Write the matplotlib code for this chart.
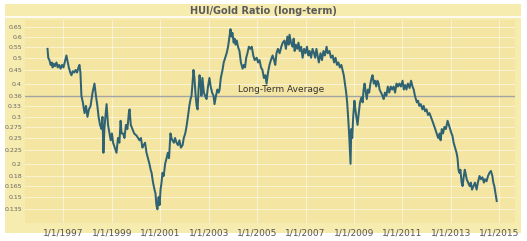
import matplotlib.pyplot as plt
from matplotlib.patches import Rectangle
from matplotlib.lines import Line2D

# Даты (десятичные годы) и значения HUI/Gold
dates = [
    1996.34, 1996.37, 1996.42, 1996.47, 1996.52, 1996.55, 1996.60, 1996.65, 1996.71, 1996.76,
    1996.82, 1996.88, 1996.94, 1997.00, 1997.05, 1997.12, 1997.16, 1997.22, 1997.28, 1997.33,
    1997.38, 1997.44, 1997.50, 1997.56, 1997.62, 1997.66, 1997.70, 1997.74, 1997.80, 1997.87,
    1997.93, 1997.99, 1998.05, 1998.12, 1998.20, 1998.28, 1998.34, 1998.40, 1998.45, 1998.51,
    1998.57, 1998.61, 1998.65, 1998.69, 1998.73, 1998.78, 1998.84, 1998.90, 1998.95, 1999.00,
    1999.05, 1999.12, 1999.19, 1999.25, 1999.31, 1999.36, 1999.40, 1999.46, 1999.52, 1999.58,
    1999.64, 1999.70, 1999.73, 1999.78, 1999.85, 1999.92, 2000.02, 2000.08, 2000.14, 2000.20,
    2000.26, 2000.31, 2000.37, 2000.43, 2000.49, 2000.55, 2000.60, 2000.64, 2000.70, 2000.76,
    2000.80, 2000.84, 2000.88, 2000.93, 2000.97, 2001.01, 2001.05, 2001.09, 2001.14, 2001.20,
    2001.26, 2001.31, 2001.36, 2001.42, 2001.46, 2001.50, 2001.56, 2001.61, 2001.67, 2001.73,
    2001.79, 2001.85, 2001.92, 2001.97, 2002.03, 2002.08, 2002.14, 2002.20, 2002.25, 2002.29,
    2002.33, 2002.37, 2002.41, 2002.46, 2002.50, 2002.54, 2002.58, 2002.62, 2002.66, 2002.70,
    2002.74, 2002.80, 2002.85, 2002.91, 2002.97, 2003.03, 2003.08, 2003.14, 2003.20, 2003.24,
    2003.30, 2003.36, 2003.41, 2003.45, 2003.50, 2003.57, 2003.62, 2003.68, 2003.74, 2003.80,
    2003.86, 2003.90, 2003.94, 2003.98, 2004.03, 2004.07, 2004.11, 2004.16, 2004.21, 2004.27,
    2004.33, 2004.40, 2004.45, 2004.50, 2004.55, 2004.60, 2004.66, 2004.72, 2004.78, 2004.84,
    2004.90, 2004.98, 2005.04, 2005.10, 2005.16, 2005.22, 2005.28, 2005.34, 2005.39, 2005.45,
    2005.51, 2005.57, 2005.64, 2005.70, 2005.75, 2005.80, 2005.86, 2005.93, 2006.00, 2006.06,
    2006.13, 2006.19, 2006.25, 2006.30, 2006.34, 2006.40, 2006.46, 2006.51, 2006.55, 2006.60,
    2006.66, 2006.71, 2006.76, 2006.82, 2006.88, 2006.94, 2007.00, 2007.06, 2007.12, 2007.17,
    2007.23, 2007.29, 2007.35, 2007.40, 2007.45, 2007.50, 2007.55, 2007.62, 2007.68, 2007.74,
    2007.80, 2007.87, 2007.92, 2007.99, 2008.05, 2008.12, 2008.18, 2008.24, 2008.30, 2008.36,
    2008.42, 2008.48, 2008.53, 2008.58, 2008.63, 2008.68, 2008.72, 2008.76, 2008.80, 2008.84,
    2008.86, 2008.89, 2008.93, 2008.97, 2009.02, 2009.06, 2009.10, 2009.15, 2009.20, 2009.25,
    2009.31, 2009.36, 2009.40, 2009.44, 2009.49, 2009.53, 2009.58, 2009.63, 2009.68, 2009.73,
    2009.77, 2009.82, 2009.87, 2009.92, 2009.97, 2010.02, 2010.06, 2010.12, 2010.18, 2010.23,
    2010.28, 2010.34, 2010.40, 2010.46, 2010.52, 2010.58, 2010.64, 2010.70, 2010.76, 2010.82,
    2010.88, 2010.94, 2011.01, 2011.06, 2011.12, 2011.17, 2011.23, 2011.30, 2011.36, 2011.42,
    2011.47, 2011.52, 2011.56, 2011.60, 2011.65, 2011.70, 2011.76, 2011.83, 2011.88, 2011.94,
    2012.00, 2012.06, 2012.12, 2012.18, 2012.24, 2012.30, 2012.36, 2012.42, 2012.48, 2012.54,
    2012.58, 2012.63, 2012.68, 2012.74, 2012.80, 2012.87, 2012.92, 2012.97, 2013.03, 2013.07,
    2013.12, 2013.18, 2013.24, 2013.28, 2013.32, 2013.36, 2013.40, 2013.45, 2013.49, 2013.54,
    2013.58, 2013.61, 2013.66, 2013.72, 2013.78, 2013.83, 2013.88, 2013.94, 2014.00, 2014.07,
    2014.12, 2014.19, 2014.25, 2014.31, 2014.37, 2014.42, 2014.48, 2014.54, 2014.60, 2014.66,
    2014.72, 2014.76, 2014.80, 2014.85, 2014.90,
]
ratio = [
    0.54, 0.50, 0.49, 0.47, 0.48, 0.46, 0.475, 0.465, 0.48, 0.46,
    0.47, 0.455, 0.47, 0.46, 0.48, 0.51, 0.49, 0.46, 0.44, 0.43,
    0.445, 0.44, 0.45, 0.44, 0.46, 0.47, 0.44, 0.36, 0.34, 0.31,
    0.33, 0.30, 0.32, 0.33, 0.37, 0.40, 0.36, 0.33, 0.30, 0.28,
    0.27, 0.30, 0.22, 0.27, 0.30, 0.335, 0.28, 0.26, 0.245, 0.26,
    0.24, 0.23, 0.22, 0.25, 0.24, 0.29, 0.26, 0.26, 0.25, 0.28,
    0.27, 0.31, 0.32, 0.28, 0.27, 0.26, 0.255, 0.25, 0.245, 0.25,
    0.23, 0.235, 0.24, 0.22, 0.21, 0.20, 0.19, 0.185, 0.17, 0.16,
    0.155, 0.14, 0.135, 0.15, 0.14, 0.16, 0.17, 0.185, 0.18, 0.20,
    0.21, 0.22, 0.21, 0.26, 0.25, 0.245, 0.24, 0.25, 0.24, 0.235,
    0.245, 0.23, 0.235, 0.25, 0.26, 0.275, 0.30, 0.33, 0.35, 0.36,
    0.40, 0.45, 0.42, 0.36, 0.33, 0.32, 0.38, 0.43, 0.40, 0.36,
    0.42, 0.37, 0.36, 0.35, 0.39, 0.42, 0.39, 0.37, 0.36, 0.335,
    0.36, 0.38, 0.37, 0.38, 0.42, 0.45, 0.48, 0.50, 0.52, 0.55,
    0.60, 0.64, 0.60, 0.62, 0.57, 0.59, 0.56, 0.58, 0.55, 0.53,
    0.48, 0.455, 0.47, 0.46, 0.50, 0.52, 0.55, 0.54, 0.55, 0.51,
    0.49, 0.50, 0.48, 0.49, 0.46, 0.45, 0.42, 0.43, 0.40, 0.44,
    0.47, 0.49, 0.51, 0.49, 0.47, 0.52, 0.54, 0.52, 0.55, 0.57,
    0.58, 0.54, 0.60, 0.56, 0.61, 0.57, 0.55, 0.59, 0.53, 0.56,
    0.54, 0.57, 0.53, 0.55, 0.50, 0.54, 0.52, 0.55, 0.51, 0.53,
    0.50, 0.54, 0.52, 0.50, 0.54, 0.51, 0.48, 0.52, 0.49, 0.53,
    0.51, 0.55, 0.52, 0.53, 0.50, 0.51, 0.48, 0.50, 0.47, 0.48,
    0.46, 0.47, 0.45, 0.43, 0.40, 0.37, 0.34, 0.30, 0.26, 0.22,
    0.20, 0.27, 0.25, 0.30, 0.345, 0.32, 0.30, 0.28, 0.31, 0.34,
    0.355, 0.34, 0.38, 0.40, 0.37, 0.35, 0.38, 0.37, 0.40, 0.42,
    0.43, 0.40, 0.41, 0.39, 0.41, 0.40, 0.38, 0.37, 0.36, 0.35,
    0.37, 0.36, 0.39, 0.37, 0.39, 0.38, 0.39, 0.37, 0.40, 0.39,
    0.40, 0.39, 0.41, 0.38, 0.395, 0.38, 0.40, 0.385, 0.41, 0.39,
    0.38, 0.36, 0.35, 0.34, 0.345, 0.33, 0.335, 0.32, 0.33, 0.315,
    0.32, 0.305, 0.31, 0.30, 0.29, 0.28, 0.27, 0.26, 0.25, 0.26,
    0.245, 0.27, 0.26, 0.275, 0.27, 0.29, 0.28, 0.27, 0.26, 0.255,
    0.24, 0.23, 0.22, 0.21, 0.19, 0.185, 0.19, 0.17, 0.165, 0.18,
    0.19, 0.185, 0.175, 0.17, 0.165, 0.17, 0.16, 0.165, 0.17, 0.16,
    0.17, 0.18, 0.175, 0.178, 0.17, 0.175, 0.172, 0.18, 0.185, 0.188,
    0.18, 0.17, 0.165, 0.155, 0.145,
]

long_term_avg = 0.36
y_ticks = [0.135, 0.15, 0.165, 0.18, 0.2, 0.225, 0.25, 0.275, 0.3, 0.33,
           0.36, 0.4, 0.45, 0.5, 0.55, 0.6, 0.65]
y_labels = ['0.135', '0.15', '0.165', '0.18', '0.2', '0.225', '0.25', '0.275', '0.3', '0.33',
            '0.36', '0.4', '0.45', '0.5', '0.55', '0.6', '0.65']
x_ticks = [1997, 1999, 2001, 2003, 2005, 2007, 2009, 2011, 2013, 2015]
x_labels = ['1/1/' + str(y) for y in x_ticks]

fig = plt.figure(figsize=(5.27, 2.41), dpi=100, facecolor='white')

# Фоновая панель и полоса заголовка
fig.patches.append(Rectangle((0.01, 0.035), 0.978, 0.95, transform=fig.transFigure,
                             facecolor='#f7ecb0', edgecolor='none', zorder=-10))
fig.lines.append(Line2D([0.01, 0.988], [0.928, 0.928], transform=fig.transFigure,
                        color='white', lw=1.2, zorder=-5))
fig.text(0.5, 0.955, 'HUI/Gold Ratio (long-term)', ha='center', va='center',
         fontsize=7, fontweight='bold', color='#5a5a5a')

ax = fig.add_axes([0.047, 0.075, 0.93, 0.84])
ax.set_zorder(1)
ax.set_facecolor('#f4e5a3')
ax.set_yscale('log')
ax.set_ylim(0.12, 0.69)
ax.set_xlim(1995.4, 2015.65)

ax.plot(dates, ratio, color='#2f6373', lw=1.45, solid_joinstyle='round', zorder=3)
ax.axhline(long_term_avg, color='#a3a3a3', lw=1.0, zorder=2)
ax.text(2006.0, long_term_avg * 1.015, 'Long-Term Average', ha='center', va='bottom',
        fontsize=6.5, color='#333333', zorder=4)

ax.set_yticks(y_ticks)
ax.set_yticklabels(y_labels)
ax.yaxis.set_minor_locator(plt.NullLocator())
ax.set_xticks(x_ticks)
ax.set_xticklabels(x_labels)
ax.tick_params(axis='y', length=0, pad=2, labelsize=4.5, labelcolor='#666666')
ax.tick_params(axis='x', length=0, pad=4, labelsize=6.5, labelcolor='#555555')
ax.grid(True, color='white', lw=0.6, alpha=0.6)
ax.set_axisbelow(True)
for s in ax.spines.values():
    s.set_visible(False)

fig.savefig('out.png', dpi=100, facecolor='white')
